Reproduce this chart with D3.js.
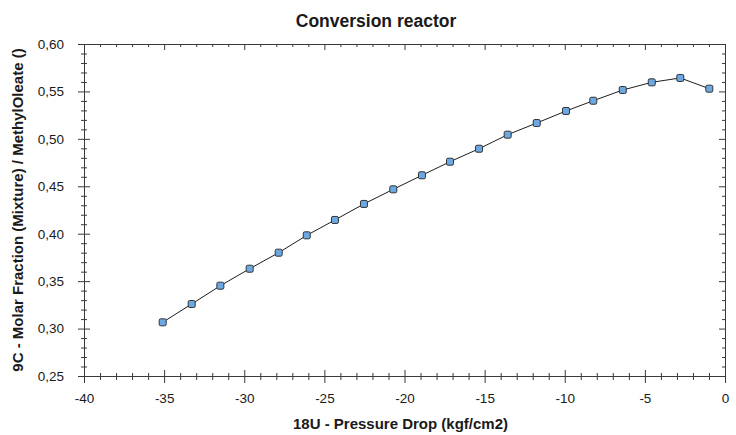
<!DOCTYPE html>
<html>
<head>
<meta charset="utf-8">
<script src="https://cdn.jsdelivr.net/npm/d3@7"></script>
<style>
  body { margin: 0; background: #fff; }
  text { font-family: "Liberation Sans", Arial, sans-serif; fill: #1a1a1a; }
</style>
</head>
<body>
<div id="chart"></div>
<script>
// Data
const pressureDrop = [-35.09, -33.28, -31.49, -29.66, -27.85, -26.10, -24.34, -22.53, -20.70, -18.91,
                      -17.16, -15.35, -13.56, -11.75, -9.92, -8.22, -6.38, -4.57, -2.79, -0.98];
const molarFraction = [0.3066, 0.3259, 0.3452, 0.3631, 0.3800, 0.3983, 0.4145, 0.4314, 0.4468, 0.4616,
                       0.4759, 0.4896, 0.5044, 0.5167, 0.5294, 0.5402, 0.5515, 0.5596, 0.5642, 0.5529];
const xMajorTicks = [-40, -35, -30, -25, -20, -15, -10, -5, 0];
const yMajorTicks = [0.25, 0.30, 0.35, 0.40, 0.45, 0.50, 0.55, 0.60];
const chartTitle = "Conversion reactor";
const xTitle = "18U - Pressure Drop (kgf/cm2)";
const yTitle = "9C - Molar Fraction (Mixture) / MethylOleate ()";

const W = 736, H = 435;
const margin = {top: 44, right: 11, bottom: 59, left: 84},
    width = W - margin.left - margin.right,
    height = H - margin.top - margin.bottom;

const svg = d3.select("#chart")
  .append("svg")
    .attr("width", W)
    .attr("height", H)
  .append("g")
    .attr("transform", `translate(${margin.left}, ${margin.top})`);

const x = d3.scaleLinear().domain([-40, 0]).range([0, width]);
const y = d3.scaleLinear().domain([0.25, 0.60]).range([height, 0]);

// comma decimal separator
const locale = d3.formatLocale({decimal: ",", thousands: ".", grouping: [3], currency: ["", ""], minus: "-"});
const fmtY = locale.format(".2f");
const fmtX = locale.format("d");

const xMinor = d3.range(-40, 1, 1).filter(v => v % 5 !== 0);
const yMinor = d3.range(25, 61, 1).filter(v => v % 5 !== 0).map(v => v / 100);

const axisColor = "#3a3a3a";

function styleAxis(g) {
  g.select(".domain").attr("stroke", axisColor);
  g.selectAll(".tick line").attr("stroke", axisColor);
  g.selectAll(".tick text").style("font-size", "13.5px").attr("fill", "#1a1a1a");
}

// Bottom axis (ticks cross the axis line)
const bottomMinor = svg.append("g")
  .attr("transform", `translate(0, ${height})`)
  .call(d3.axisBottom(x).tickValues(xMinor).tickSize(4).tickFormat(""))
  .call(styleAxis);
bottomMinor.selectAll(".tick line").attr("y1", -3);
bottomMinor.select(".domain").remove();

const bottom = svg.append("g")
  .attr("transform", `translate(0, ${height})`)
  .call(d3.axisBottom(x).tickValues(xMajorTicks).tickSize(7).tickPadding(10).tickFormat(fmtX).tickSizeOuter(0))
  .call(styleAxis);
bottom.selectAll(".tick line").attr("y1", -6);

// Left axis
const leftMinor = svg.append("g")
  .call(d3.axisLeft(y).tickValues(yMinor).tickSize(3).tickFormat(""))
  .call(styleAxis);
leftMinor.selectAll(".tick line").attr("x1", 3);
leftMinor.select(".domain").remove();

const left = svg.append("g")
  .call(d3.axisLeft(y).tickValues(yMajorTicks).tickSize(6).tickPadding(14).tickFormat(fmtY).tickSizeOuter(0))
  .call(styleAxis);
left.selectAll(".tick line").attr("x1", 6);

// Top axis, ticks pointing inward
const topMinor = svg.append("g")
  .call(d3.axisTop(x).tickValues(xMinor).tickSize(-3).tickFormat(""))
  .call(styleAxis);
topMinor.select(".domain").remove();
svg.append("g")
  .call(d3.axisTop(x).tickValues(xMajorTicks).tickSize(-6).tickFormat("").tickSizeOuter(0))
  .call(styleAxis);

// Right axis, ticks pointing inward
const rightMinor = svg.append("g")
  .attr("transform", `translate(${width}, 0)`)
  .call(d3.axisRight(y).tickValues(yMinor).tickSize(-3).tickFormat(""))
  .call(styleAxis);
rightMinor.select(".domain").remove();
svg.append("g")
  .attr("transform", `translate(${width}, 0)`)
  .call(d3.axisRight(y).tickValues(yMajorTicks).tickSize(-6).tickFormat("").tickSizeOuter(0))
  .call(styleAxis);

// Line and markers
const points = pressureDrop.map((d, i) => ({x: d, y: molarFraction[i]}));

svg.append("path")
  .datum(points)
  .attr("fill", "none")
  .attr("stroke", "#1e1e1e")
  .attr("stroke-width", 1)
  .attr("d", d3.line().x(d => x(d.x)).y(d => y(d.y)));

const ms = 7;
svg.selectAll(".marker")
  .data(points)
  .enter()
  .append("rect")
    .attr("class", "marker")
    .attr("x", d => x(d.x) - ms / 2)
    .attr("y", d => y(d.y) - ms / 2)
    .attr("width", ms)
    .attr("height", ms)
    .attr("rx", 1.5)
    .attr("fill", "#6ca8e2")
    .attr("stroke", "#333")
    .attr("stroke-width", 1);

// Titles
svg.append("text")
  .attr("x", 376 - margin.left)
  .attr("y", 27 - margin.top)
  .attr("text-anchor", "middle")
  .style("font-size", "17.5px")
  .style("font-weight", "bold")
  .text(chartTitle);

svg.append("text")
  .attr("x", width / 2 - 4)
  .attr("y", 429 - margin.top)
  .attr("text-anchor", "middle")
  .style("font-size", "15px")
  .style("font-weight", "bold")
  .text(xTitle);

svg.append("text")
  .attr("transform", "rotate(-90)")
  .attr("x", -height / 2)
  .attr("y", 23 - margin.left)
  .attr("text-anchor", "middle")
  .style("font-size", "15px")
  .style("font-weight", "bold")
  .text(yTitle);
</script>
</body>
</html>
